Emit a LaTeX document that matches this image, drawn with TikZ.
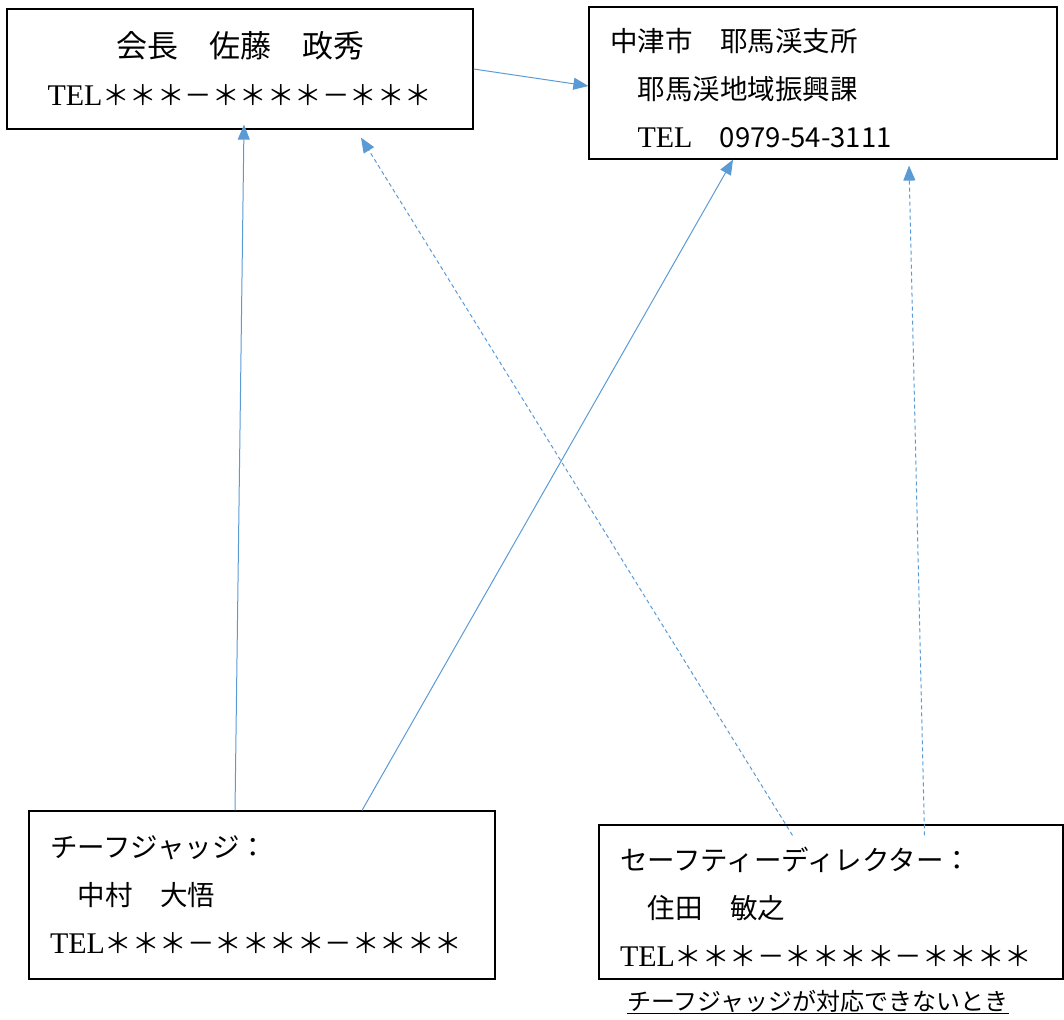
\documentclass[tikz,border=0pt]{standalone}
\usepackage{fontspec}
\newfontfamily\jp{Noto Sans CJK JP}
\newfontfamily\telfont{Liberation Serif}
\usetikzlibrary{arrows.meta}
\definecolor{linkblue}{HTML}{5B9BD5}
\newcommand{\tel}{{\telfont\fontsize{30}{48}\selectfont TEL}}
\newcommand{\lift}{\rule{0pt}{34pt}}

\begin{document}
\begin{tikzpicture}
[box/.style={draw=black, line width=1.2pt, inner xsep=21pt, inner ysep=0pt, align=left, font=\fontsize{27.5}{48}\selectfont\jp},
 link/.style={line width=1pt, color=linkblue, -{Triangle[length=15pt, width=12pt]}},
 backup/.style={link, dash pattern=on 4pt off 3pt}]
\useasboundingbox (0pt, 0pt) rectangle (1064pt, -1019pt);
\node (boss) [box, align=center, text width=424pt, minimum width=466pt, minimum height=120pt] at (240.0pt, -69.0pt) {{\fontsize{31}{48}\selectfont 会長　佐藤　政秀}\\\tel＊＊＊－＊＊＊＊－＊＊＊};
\node (office) [box, text width=426pt, minimum width=468pt, minimum height=152pt] at (823.0pt, -83.0pt) {\lift 中津市　耶馬渓支所\\　耶馬渓地域振興課\\　\tel　0979-54-3111};
\node (judge) [box, text width=424pt, minimum width=466pt, minimum height=168pt] at (262.0pt, -895.0pt) {チーフジャッジ：\\　中村　大悟\\\tel＊＊＊－＊＊＊＊－＊＊＊＊};
\node (safety) [box, text width=422pt, minimum width=464pt, minimum height=154pt] at (831.0pt, -902.0pt) {\lift セーフティーディレクター：\\　住田　敏之\\\tel＊＊＊－＊＊＊＊－＊＊＊＊};
\node (note) [anchor=west, inner sep=0pt, font=\fontsize{24}{28}\selectfont\jp] at (627.0pt, -1002.0pt) {\underline{チーフジャッジが対応できないとき}};
\draw [link] (boss.east) to ([yshift=-3pt]office.west);
\draw [link] ([xshift=-27pt]judge.north) to ([xshift=4pt, yshift=5pt]boss.south);
\draw [link] ([xshift=100pt]judge.north) to ([xshift=-90pt]office.south);
\draw [backup] ([xshift=-38.5pt, yshift=-11pt]safety.north) to ([xshift=121pt, yshift=-8pt]boss.south);
\draw [backup] ([xshift=93.5pt, yshift=-11pt]safety.north) to ([xshift=86pt, yshift=-6pt]office.south);
\end{tikzpicture}
\end{document}
